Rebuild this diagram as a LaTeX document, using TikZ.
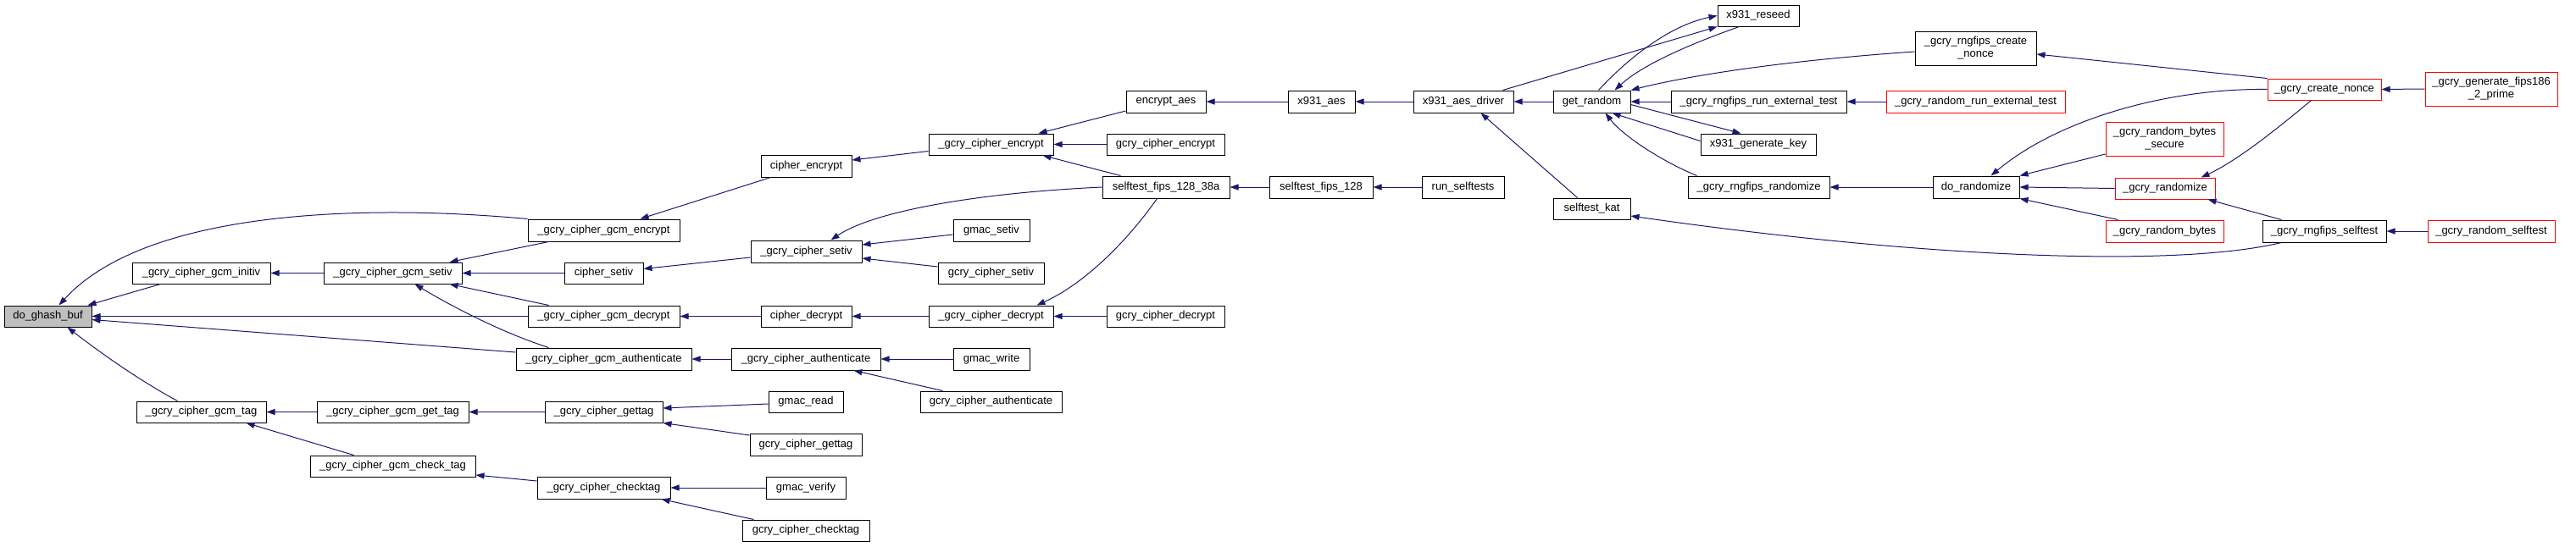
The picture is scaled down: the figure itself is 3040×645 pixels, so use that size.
\documentclass[tikz,border=0pt]{standalone}
\usepackage{fontspec}
\setmainfont{Liberation Sans}
\usetikzlibrary{arrows.meta}
\definecolor{edgec}{RGB}{25,25,112}
\definecolor{hlgray}{RGB}{191,191,191}
\definecolor{redc}{RGB}{255,0,0}
\newcommand\mkbox[7][]{\node[box,#1,minimum width={(#5-#3)*1pt},minimum height={(#6-#4)*1pt}] (#2) at ({(#3+#5)/2},{(#4+#6)/2}) {#7};}
\tikzset{
  box/.style={draw=black, line width=1pt, rectangle, inner sep=0pt, align=center, font=\fontsize{13}{15}\selectfont},
  redbox/.style={draw=redc},
  hl/.style={fill=hlgray},
  calls/.style={draw=edgec, line width=1pt, -{Triangle[length=10pt,width=7pt]}}
}
\begin{document}
\begin{tikzpicture}[x=1pt,y=-1pt]
\useasboundingbox (0,0) rectangle (3040,645);
% nodes
\mkbox[hl]{dgb}{5}{361}{108}{386}{do\_ghash\_buf}
\mkbox{initiv}{156}{310}{319}{335}{\_gcry\_cipher\_gcm\_initiv}
\mkbox{gtag}{161}{474}{314}{499}{\_gcry\_cipher\_gcm\_tag}
\mkbox{gsetiv}{382}{310}{545}{335}{\_gcry\_cipher\_gcm\_setiv}
\mkbox{gettag}{374}{474}{553}{499}{\_gcry\_cipher\_gcm\_get\_tag}
\mkbox{chktag}{366}{538}{561}{563}{\_gcry\_cipher\_gcm\_check\_tag}
\mkbox{genc}{623}{259}{802}{285}{\_gcry\_cipher\_gcm\_encrypt}
\mkbox{csetiv}{666}{310}{759}{335}{cipher\_setiv}
\mkbox{gdec}{623}{361}{802}{386}{\_gcry\_cipher\_gcm\_decrypt}
\mkbox{gauth}{609}{411}{816}{437}{\_gcry\_cipher\_gcm\_authenticate}
\mkbox{cenc}{898}{183}{1005}{209}{cipher\_encrypt}
\mkbox{usetiv}{886}{284}{1017}{310}{\_gcry\_cipher\_setiv}
\mkbox{cdec}{898}{361}{1005}{386}{cipher\_decrypt}
\mkbox{uauth}{863}{411}{1039}{437}{\_gcry\_cipher\_authenticate}
\mkbox{ugettag}{643}{474}{782}{499}{\_gcry\_cipher\_gettag}
\mkbox{gmread}{907}{462}{995}{487}{gmac\_read}
\mkbox{pgettag}{885}{512}{1017}{538}{gcry\_cipher\_gettag}
\mkbox{uchk}{634}{563}{791}{589}{\_gcry\_cipher\_checktag}
\mkbox{gmverify}{904}{563}{998}{589}{gmac\_verify}
\mkbox{pchk}{876}{614}{1026}{639}{gcry\_cipher\_checktag}
\mkbox{uenc}{1096}{158}{1243}{183}{\_gcry\_cipher\_encrypt}
\mkbox{encaes}{1329}{107}{1423}{133}{encrypt\_aes}
\mkbox{penc}{1306}{158}{1445}{183}{gcry\_cipher\_encrypt}
\mkbox{sf38a}{1301}{208}{1451}{234}{selftest\_fips\_128\_38a}
\mkbox{gmsetiv}{1125}{259}{1215}{285}{gmac\_setiv}
\mkbox{psetiv}{1107}{310}{1232}{335}{gcry\_cipher\_setiv}
\mkbox{udec}{1096}{361}{1243}{386}{\_gcry\_cipher\_decrypt}
\mkbox{pdec}{1306}{361}{1445}{386}{gcry\_cipher\_decrypt}
\mkbox{gmwrite}{1125}{411}{1215}{437}{gmac\_write}
\mkbox{pauth}{1086}{462}{1253}{487}{gcry\_cipher\_authenticate}
\mkbox{xaes}{1520}{107}{1599}{133}{x931\_aes}
\mkbox{xdrv}{1668}{107}{1786}{133}{x931\_aes\_driver}
\mkbox{sf128}{1498}{208}{1620}{234}{selftest\_fips\_128}
\mkbox{runst}{1678}{208}{1775}{234}{run\_selftests}
\mkbox{getr}{1833}{107}{1924}{133}{get\_random}
\mkbox{skat}{1833}{234}{1924}{259}{selftest\_kat}
\mkbox{xres}{2027}{6}{2123}{31}{x931\_reseed}
\mkbox{rcn}{2260}{37}{2403}{77}{\_gcry\_rngfips\_create\\\_nonce}
\mkbox{rret}{1972}{107}{2179}{133}{\_gcry\_rngfips\_run\_external\_test}
\mkbox{xgk}{2007}{158}{2143}{183}{x931\_generate\_key}
\mkbox{rrand}{1992}{208}{2159}{234}{\_gcry\_rngfips\_randomize}
\mkbox{dorand}{2281}{208}{2383}{234}{do\_randomize}
\mkbox[redbox]{rnret}{2226}{107}{2437}{133}{\_gcry\_random\_run\_external\_test}
\mkbox[redbox]{cnonce}{2676}{93}{2810}{118}{\_gcry\_create\_nonce}
\mkbox[redbox]{gfp}{2862}{85}{3018}{125}{\_gcry\_generate\_fips186\\\_2\_prime}
\mkbox[redbox]{rbs}{2485}{144}{2624}{184}{\_gcry\_random\_bytes\\\_secure}
\mkbox[redbox]{grand}{2496}{210}{2614}{235}{\_gcry\_randomize}
\mkbox[redbox]{rbytes}{2485}{260}{2624}{286}{\_gcry\_random\_bytes}
\mkbox{rst}{2670}{260}{2816}{286}{\_gcry\_rngfips\_selftest}
\mkbox[redbox]{rself}{2865}{260}{3015}{286}{\_gcry\_random\_selftest}
% edges (caller -> callee)
\draw[calls] (genc.north west) .. controls (420,240) and (170,250) .. ([xshift=65pt]dgb.north west);
\draw[calls] ([xshift=34pt]initiv.south west) -- ([xshift=-5pt]dgb.north east);
\draw[calls] (gdec.west) -- (dgb.east);
\draw[calls] ([yshift=8pt]gauth.west) -- ([yshift=-4pt]dgb.east);
\draw[calls] ([xshift=49pt]gtag.north west) .. controls (160,447) and (110,410) .. ([xshift=75pt]dgb.south west);
\draw[calls] (gsetiv.west) -- (initiv.east);
\draw[calls] ([xshift=25pt]genc.south west) -- ([xshift=-15pt]gsetiv.north east);
\draw[calls] (csetiv.west) -- (gsetiv.east);
\draw[calls] ([xshift=25pt]gdec.north west) -- ([xshift=-15pt]gsetiv.south east);
\draw[calls] ([xshift=39pt]gauth.north west) .. controls (590,392) and (530,360) .. ([xshift=108pt]gsetiv.south west);
\draw[calls] ([yshift=-7pt]usetiv.west) -- ([yshift=5pt]csetiv.east);
\draw[calls] ([xshift=12pt]cenc.south west) -- ([xshift=-47pt]genc.north east);
\draw[calls] ([yshift=-8pt]uenc.west) -- ([yshift=7pt]cenc.east);
\draw[calls] (sf38a.west) .. controls (1150,228) and (1030,250) .. ([xshift=95pt]usetiv.north west);
\draw[calls] ([yshift=-5pt]gmsetiv.west) -- ([yshift=8pt]usetiv.east);
\draw[calls] ([yshift=7.5pt]psetiv.west) -- ([yshift=-8pt]usetiv.east);
\draw[calls] (cdec.west) -- (gdec.east);
\draw[calls] (udec.west) -- (cdec.east);
\draw[calls] ([xshift=65pt]sf38a.south west) .. controls (1330,285) and (1280,335) .. ([xshift=-20pt]udec.north east);
\draw[calls] (pdec.west) -- (udec.east);
\draw[calls] (uauth.west) -- (gauth.east);
\draw[calls] (gmwrite.west) -- (uauth.east);
\draw[calls] ([xshift=27pt]pauth.north west) -- ([xshift=-32pt]uauth.south east);
\draw[calls] (gettag.west) -- (gtag.east);
\draw[calls] ([xshift=52pt]chktag.north west) -- ([xshift=-24pt]gtag.south east);
\draw[calls] (ugettag.west) -- (gettag.east);
\draw[calls] ([yshift=-2.5pt]gmread.west) -- ([yshift=4.5pt]ugettag.east);
\draw[calls] ([yshift=11pt]pgettag.west) -- (ugettag.south east);
\draw[calls] ([yshift=8pt]uchk.west) -- ([yshift=-10.5pt]chktag.east);
\draw[calls] (gmverify.west) -- (uchk.east);
\draw[calls] ([xshift=14pt]pchk.north west) -- ([xshift=-11pt]uchk.south east);
\draw[calls] ([yshift=-11pt]encaes.west) -- ([xshift=-18pt]uenc.north east);
\draw[calls] (penc.west) -- (uenc.east);
\draw[calls] ([xshift=22pt]sf38a.north west) -- ([xshift=-13pt]uenc.south east);
\draw[calls] (xaes.west) -- (encaes.east);
\draw[calls] (xdrv.west) -- (xaes.east);
\draw[calls] (getr.west) -- (xdrv.east);
\draw[calls] ([xshift=-13pt]xdrv.north east) -- (xres.south west);
\draw[calls] ([xshift=54pt]getr.north west) .. controls (1920,70) and (1970,30) .. (xres.west);
\draw[calls] ([xshift=26pt]xres.south west) .. controls (2000,50) and (1940,75) .. ([xshift=-19pt]getr.north east);
\draw[calls] ([yshift=-4pt]rcn.west) .. controls (2100,72) and (1990,90) .. (getr.north east);
\draw[calls] (rret.west) -- (getr.east);
\draw[calls] ([yshift=-3.5pt]getr.east) -- ([xshift=48pt]xgk.north west);
\draw[calls] ([yshift=4pt]xgk.west) -- ([xshift=-22pt]getr.south east);
\draw[calls] ([xshift=11pt]rrand.north west) .. controls (1960,190) and (1915,160) .. ([xshift=-30pt]getr.south east);
\draw[calls] (dorand.west) -- (rrand.east);
\draw[calls] (cnonce.west) .. controls (2560,104) and (2430,140) .. ([xshift=69pt]dorand.north west);
\draw[calls] ([yshift=-18pt]rbs.west) -- (dorand.north east);
\draw[calls] (grand.west) -- (dorand.east);
\draw[calls] ([xshift=15pt]rbytes.north west) -- (dorand.south east);
\draw[calls] (cnonce.north west) -- ([yshift=-7pt]rcn.east);
\draw[calls] (gfp.west) -- (cnonce.east);
\draw[calls] ([xshift=52pt]cnonce.south west) .. controls (2690,150) and (2640,190) .. ([xshift=-17pt]grand.north east);
\draw[calls] ([xshift=23pt]rst.north west) -- ([xshift=-9pt]grand.south east);
\draw[calls] ([xshift=23pt]rst.south west) .. controls (2560,318) and (2250,302) .. ([yshift=-8.5pt]skat.east);
\draw[calls] (rself.west) -- (rst.east);
\draw[calls] (rnret.west) -- (rret.east);
\draw[calls] ([xshift=29pt]skat.north west) -- ([xshift=-39pt]xdrv.south east);
\draw[calls] (sf128.west) -- (sf38a.east);
\draw[calls] (runst.west) -- (sf128.east);
\end{tikzpicture}
\end{document}
